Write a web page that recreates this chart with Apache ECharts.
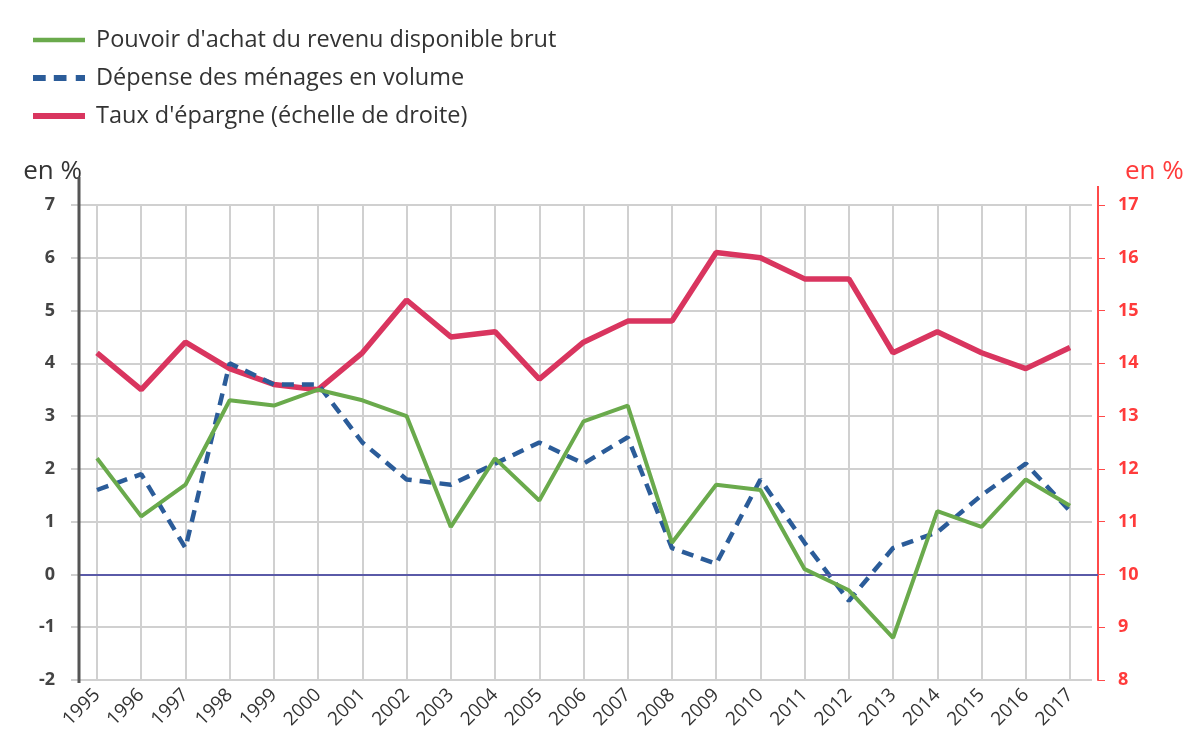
<!DOCTYPE html>
<html>
<head>
<meta charset="utf-8">
<script src="https://cdn.jsdelivr.net/npm/echarts@6/dist/echarts.min.js"></script>
<style>
  html, body { margin: 0; padding: 0; background: #fff; }
  #chart { width: 1195px; height: 754px; }
</style>
</head>
<body>
<div id="chart"></div>
<script>
// Données (en %)
const years = ['1995', '1996', '1997', '1998', '1999', '2000', '2001', '2002', '2003', '2004', '2005', '2006',
  '2007', '2008', '2009', '2010', '2011', '2012', '2013', '2014', '2015', '2016', '2017']
const pouvoirAchat = [2.2, 1.1, 1.7, 3.3, 3.2, 3.5, 3.3, 3.0, 0.9, 2.2, 1.4, 2.9,
  3.2, 0.6, 1.7, 1.6, 0.1, -0.3, -1.2, 1.2, 0.9, 1.8, 1.3]
const depenseMenages = [1.6, 1.9, 0.5, 4.0, 3.6, 3.6, 2.5, 1.8, 1.7, 2.1, 2.5, 2.1,
  2.6, 0.5, 0.2, 1.8, 0.6, -0.5, 0.5, 0.8, 1.5, 2.1, 1.2]
const tauxEpargne = [14.2, 13.5, 14.4, 13.9, 13.6, 13.5, 14.2, 15.2, 14.5, 14.6, 13.7, 14.4,
  14.8, 14.8, 16.1, 16.0, 15.6, 15.6, 14.2, 14.6, 14.2, 13.9, 14.3]
const names = ['Pouvoir d\'achat du revenu disponible brut', 'Dépense des ménages en volume', 'Taux d\'épargne (échelle de droite)']

const FONT = '"Open Sans", "Noto Sans", sans-serif'
const GRID_COLOR = '#d0d0d0'

const chart = echarts.init(document.getElementById('chart'), null, { renderer: 'canvas' })

const option = {
  animation: false,
  textStyle: { fontFamily: FONT },
  legend: {
    orient: 'vertical',
    left: 28,
    top: 23,
    itemWidth: 52,
    itemHeight: 20,
    itemGap: 14,
    textStyle: { fontSize: 23.5, lineHeight: 24, color: '#333', fontFamily: FONT, padding: [0, 0, 0, 6] },
    data: [
      { name: names[0], icon: 'path://M0,0h52v4.5h-52z' },
      { name: names[1], icon: 'path://M0,0h11v5h-11z M18,0h11v5h-11z M37,0h8v5h-8z' },
      { name: names[2], icon: 'path://M0,0h52v6h-52z' }
    ]
  },
  grid: [
    // grille des données
    { left: 97, right: 125, top: 205, bottom: 74 },
    // lignes horizontales de fond
    { left: 71, right: 103, top: 205, bottom: 74 },
    // ligne du zéro
    { left: 79, right: 97, top: 205, bottom: 74 }
  ],
  xAxis: [
    {
      type: 'category',
      gridIndex: 0,
      data: years,
      boundaryGap: false,
      axisLine: { show: false },
      axisTick: { show: true, length: 9, lineStyle: { color: GRID_COLOR, width: 2 } },
      axisLabel: { rotate: 45, margin: 12, fontSize: 19, color: '#333', fontFamily: FONT },
      splitLine: { show: true, lineStyle: { color: GRID_COLOR, width: 2 } }
    },
    { type: 'value', gridIndex: 1, min: 0, max: 1, show: false },
    { type: 'value', gridIndex: 2, min: 0, max: 1, show: false }
  ],
  yAxis: [
    {
      type: 'value',
      gridIndex: 0,
      min: -2,
      max: 7,
      interval: 1,
      offset: 18,
      name: 'en %',
      nameLocation: 'end',
      nameGap: 20,
      nameTextStyle: { fontSize: 26, color: '#333', align: 'right', padding: [0, -3, 0, 0], fontFamily: FONT },
      axisLine: { show: false },
      axisTick: { show: false },
      axisLabel: { fontSize: 18, fontWeight: 'bold', color: '#444', margin: 24, fontFamily: FONT },
      splitLine: { show: false }
    },
    {
      type: 'value',
      gridIndex: 0,
      position: 'right',
      min: 8,
      max: 17,
      interval: 1,
      offset: 28,
      name: 'en %',
      nameLocation: 'end',
      nameGap: 20,
      nameTextStyle: { fontSize: 26, color: '#ff3b3b', align: 'left', padding: [0, 0, 0, 27], fontFamily: FONT },
      axisLine: { show: true, lineStyle: { color: '#ff4a4a', width: 2 } },
      axisTick: { show: true, length: 7, lineStyle: { color: '#ff4a4a', width: 1 } },
      axisLabel: { fontSize: 18, fontWeight: 'bold', color: '#ff3b3b', margin: 20, fontFamily: FONT },
      splitLine: { show: false }
    },
    {
      type: 'value',
      gridIndex: 1,
      min: -2,
      max: 7,
      interval: 1,
      axisLine: { show: false },
      axisTick: { show: false },
      axisLabel: { show: false },
      splitLine: { show: true, lineStyle: { color: GRID_COLOR, width: 2 } }
    },
    {
      type: 'value',
      gridIndex: 2,
      min: -2,
      max: 7,
      show: false,
      splitLine: { show: false }
    }
  ],
  graphic: [
    // axe gauche prolongé au-dessus de la grille
    {
      type: 'line',
      shape: { x1: 79, y1: 177, x2: 79, y2: 683 },
      style: { stroke: '#555', lineWidth: 3 },
      z: 10
    },
    {
      type: 'line',
      shape: { x1: 1098, y1: 186, x2: 1098, y2: 205 },
      style: { stroke: '#ff4a4a', lineWidth: 2 },
      z: 10
    }
  ],
  series: [
    {
      name: 'zero',
      type: 'line',
      xAxisIndex: 2,
      yAxisIndex: 3,
      data: [],
      silent: true,
      markLine: {
        silent: true,
        symbol: 'none',
        label: { show: false },
        lineStyle: { color: '#5a5aa8', width: 2, type: 'solid' },
        data: [{ yAxis: 0 }]
      }
    },
    {
      name: names[2],
      type: 'line',
      xAxisIndex: 0,
      yAxisIndex: 1,
      data: tauxEpargne,
      symbol: 'none',
      z: 3,
      lineStyle: { color: '#d9355f', width: 5.5 },
      itemStyle: { color: '#d9355f' }
    },
    {
      name: names[1],
      type: 'line',
      xAxisIndex: 0,
      yAxisIndex: 0,
      data: depenseMenages,
      symbol: 'none',
      z: 4,
      lineStyle: { color: '#2b5c99', width: 4.5, type: [12, 8] },
      itemStyle: { color: '#2b5c99' }
    },
    {
      name: names[0],
      type: 'line',
      xAxisIndex: 0,
      yAxisIndex: 0,
      data: pouvoirAchat,
      symbol: 'none',
      z: 5,
      lineStyle: { color: '#6aaa4c', width: 4 },
      itemStyle: { color: '#6aaa4c' }
    }
  ]
}

chart.setOption(option)
</script>
</body>
</html>
